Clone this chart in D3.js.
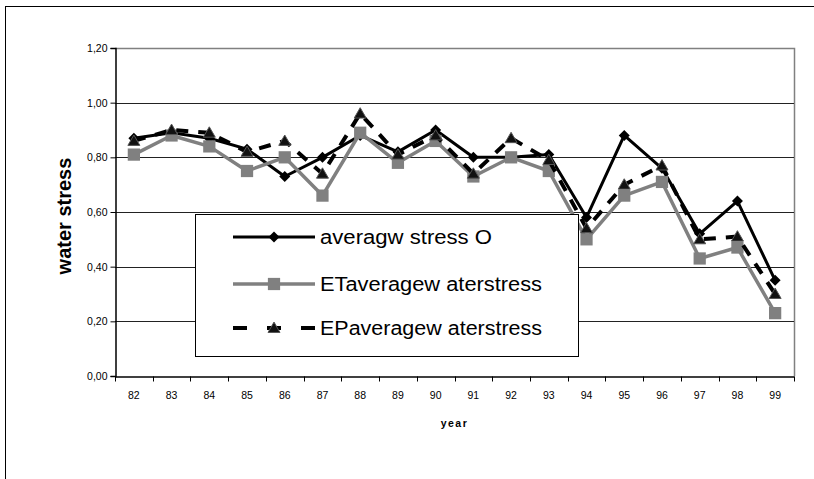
<!DOCTYPE html>
<html>
<head>
<meta charset="utf-8">
<script src="https://cdn.jsdelivr.net/npm/d3@7"></script>
<style>
  html, body { margin: 0; padding: 0; background: #fff; }
  svg { display: block; font-family: "Liberation Sans", Arial, sans-serif; }
</style>
</head>
<body>
<svg id="chart" width="814" height="479"></svg>
<script>
// Years (x categories)
const years = ["82","83","84","85","86","87","88","89","90","91","92","93","94","95","96","97","98","99"];

// Average water stress, observed
const avgStressO = [0.87,0.89,0.87,0.83,0.73,0.80,0.88,0.82,0.90,0.80,0.80,0.81,0.58,0.88,0.76,0.52,0.64,0.35];
// Average water stress from ET
const etStress   = [0.81,0.88,0.84,0.75,0.80,0.66,0.89,0.78,0.86,0.73,0.80,0.75,0.50,0.66,0.71,0.43,0.47,0.23];
// Average water stress from EP
const epStress   = [0.86,0.90,0.89,0.82,0.86,0.74,0.96,0.81,0.88,0.74,0.87,0.79,0.54,0.70,0.77,0.50,0.51,0.30];

const yTicks = [0, 0.2, 0.4, 0.6, 0.8, 1.0, 1.2];

const seriesNames = ["averagw stress  O", "ETaveragew aterstress", "EPaveragew aterstress"];

const svg = d3.select("#chart");

// outer chart frame
svg.append("rect")
  .attr("x", 5.5).attr("y", 6.5)
  .attr("width", 830).attr("height", 500)
  .attr("fill", "#fff").attr("stroke", "#000").attr("stroke-width", 1);

const plot = { left: 115, right: 794, top: 48, bottom: 376 };

const x = d3.scaleBand().domain(years).range([plot.left, plot.right]);
const y = d3.scaleLinear().domain([0, 1.2]).range([plot.bottom, plot.top]);
const cx = d => x(d) + x.bandwidth() / 2;

// plot area border (top/right grey)
svg.append("path")
  .attr("d", `M${plot.left},${plot.top + 0.5}H${plot.right + 0.5}V${plot.bottom}`)
  .attr("fill", "none").attr("stroke", "#808080").attr("stroke-width", 1.5);

// horizontal gridlines
svg.append("g")
  .selectAll("line")
  .data(yTicks.filter(t => t > 0 && t < 1.2))
  .join("line")
  .attr("x1", plot.left).attr("x2", plot.right)
  .attr("y1", d => Math.round(y(d)) + 0.5).attr("y2", d => Math.round(y(d)) + 0.5)
  .attr("stroke", "#222").attr("stroke-width", 1);

// y axis
const yAxis = svg.append("g")
  .attr("transform", `translate(${plot.left + 0.5},0)`)
  .call(d3.axisLeft(y)
    .tickValues(yTicks)
    .tickSize(5)
    .tickPadding(3)
    .tickFormat(d => d3.format(".2f")(d).replace(".", ",")));
yAxis.select(".domain").attr("stroke", "#000").attr("stroke-width", 1.5);
yAxis.selectAll(".tick line").attr("stroke", "#000");
yAxis.selectAll("text")
  .attr("font-family", "Liberation Sans, Arial, sans-serif")
  .attr("font-size", 10.5).attr("fill", "#000");

// x axis: labels centred in bands, tick marks on band boundaries
const xAxis = svg.append("g")
  .attr("transform", `translate(0,${plot.bottom + 0.5})`)
  .call(d3.axisBottom(x).tickSize(0).tickPadding(15));
xAxis.select(".domain").attr("stroke", "#000").attr("stroke-width", 1.5);
xAxis.selectAll("text")
  .attr("font-family", "Liberation Sans, Arial, sans-serif")
  .attr("font-size", 10.5).attr("fill", "#000");
xAxis.append("g")
  .selectAll("line")
  .data(years.map(d => x(d)).concat([plot.right]))
  .join("line")
  .attr("x1", d => Math.round(d) + 0.5).attr("x2", d => Math.round(d) + 0.5)
  .attr("y1", 0).attr("y2", 5)
  .attr("stroke", "#000");

// axis titles
svg.append("text")
  .attr("x", (plot.left + plot.right) / 2).attr("y", 427)
  .attr("text-anchor", "middle")
  .attr("font-size", 10.5).attr("font-weight", "bold")
  .attr("letter-spacing", 1.5)
  .text("year");

svg.append("text")
  .attr("transform", `translate(71,${(plot.top + plot.bottom) / 2 + 4}) rotate(-90)`)
  .attr("text-anchor", "middle")
  .attr("font-size", 20).attr("font-weight", "bold")
  .text("water stress");

// series
const line = d3.line().x((d, i) => cx(years[i])).y(d => y(d));

const square = d3.symbol().type(d3.symbolSquare).size(150);
const triangle = d3.symbol().type(d3.symbolTriangle).size(62);

function drawSeries(values, opts) {
  const g = svg.append("g");
  g.append("path")
    .datum(values)
    .attr("d", line)
    .attr("fill", "none")
    .attr("stroke", opts.color)
    .attr("stroke-width", opts.width)
    .attr("stroke-dasharray", opts.dash || null)
    .attr("stroke-linejoin", "round");
  g.selectAll("path.m")
    .data(values)
    .join("path")
    .attr("class", "m")
    .attr("transform", (d, i) => `translate(${cx(years[i])},${y(d) + (opts.dy || 0)})`)
    .attr("d", opts.symbol)
    .attr("fill", opts.markerFill)
    .attr("stroke", opts.markerStroke || "none")
    .attr("stroke-width", 1);
}

const styles = [
  // diamond marker
  { color: "#000", width: 3, symbol: "M0,-5.5L5.5,0L0,5.5L-5.5,0Z", markerFill: "#000" },
  { color: "#808080", width: 3.5, symbol: square(), markerFill: "#808080" },
  { color: "#000", width: 4, dash: "12,10", symbol: triangle(), markerFill: "#111", markerStroke: "#555", dy: 1 }
];

drawSeries(avgStressO, styles[0]);
drawSeries(etStress, styles[1]);
drawSeries(epStress, styles[2]);

// legend
const lg = svg.append("g");
lg.append("rect")
  .attr("x", 195.5).attr("y", 214.5)
  .attr("width", 383).attr("height", 142)
  .attr("fill", "#fff").attr("stroke", "#000").attr("stroke-width", 1);

const rowY = [237, 284, 328];
const textWidths = [172, 222, 222];
seriesNames.forEach((name, i) => {
  const s = styles[i];
  const ry = rowY[i];
  lg.append("line")
    .attr("x1", 233).attr("x2", 315)
    .attr("y1", ry).attr("y2", ry)
    .attr("stroke", s.color).attr("stroke-width", s.width)
    .attr("stroke-dasharray", i === 2 ? "14,20" : null);
  lg.append("path")
    .attr("transform", `translate(274,${ry + (s.dy || 0)})`)
    .attr("d", s.symbol)
    .attr("fill", s.markerFill)
    .attr("stroke", s.markerStroke || "none");
  lg.append("text")
    .attr("x", 320).attr("y", ry + 7)
    .attr("font-size", 20)
    .attr("textLength", textWidths[i])
    .attr("lengthAdjust", "spacingAndGlyphs")
    .text(name);
});
</script>
</body>
</html>
